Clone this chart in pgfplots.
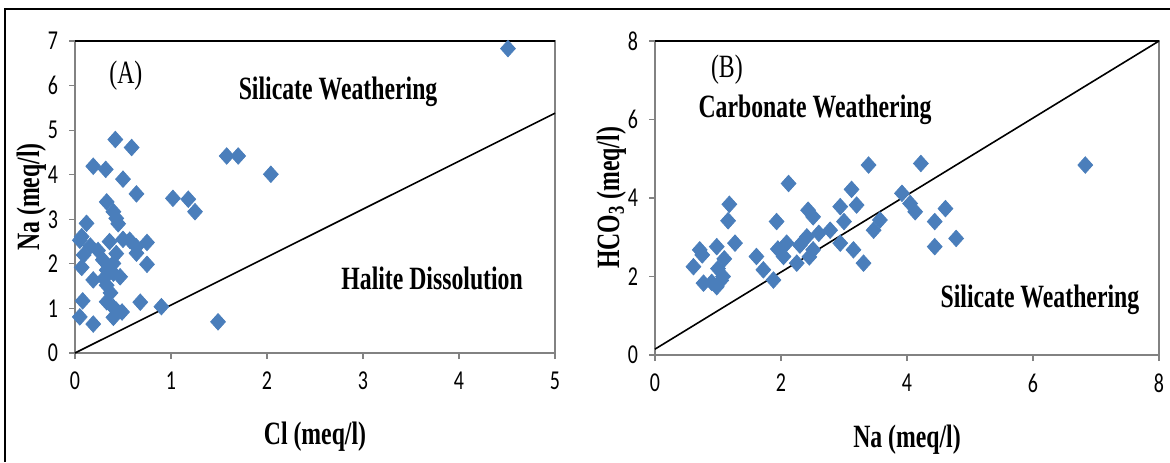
\documentclass[border=0pt]{standalone}
\usepackage{fontspec}
\setmainfont{Liberation Serif}
\newfontfamily\tickfont{Carlito}
\usepackage{graphicx}
\usepackage{pgfplots}
\pgfplotsset{compat=1.18}
\definecolor{ptblue}{RGB}{74,126,187}
\definecolor{axgray}{RGB}{130,130,130}
\newcommand{\tall}[1]{\scalebox{0.95}[1.3]{#1}}

\pgfplotstableread{
x y
0.42 4.79
0.59 4.61
0.19 4.19
0.32 4.12
0.50 3.90
0.64 3.57
1.58 4.42
1.70 4.42
2.04 4.01
1.02 3.47
1.18 3.45
1.25 3.17
0.33 3.39
0.40 3.17
0.43 3.02
0.45 2.90
0.12 2.91
0.05 2.53
0.07 2.61
0.16 2.40
0.57 2.53
0.64 2.38
0.75 2.48
0.64 2.24
0.75 1.99
0.29 2.09
0.40 2.01
0.43 2.23
0.40 1.79
0.33 1.86
0.07 1.92
0.19 1.64
0.30 1.67
0.33 1.52
0.47 1.71
0.08 1.17
0.33 1.15
0.40 1.02
0.43 0.96
0.49 0.92
0.68 1.14
0.90 1.04
0.05 0.81
0.19 0.65
0.40 0.80
1.49 0.70
4.51 6.83
0.24 2.30
0.36 2.50
0.50 2.55
0.09 2.20
0.37 1.35
}\dataA

\pgfplotstableread{
x y
3.39 4.84
2.12 4.37
1.18 3.84
1.16 3.42
3.12 4.22
2.94 3.78
3.20 3.82
2.43 3.69
2.51 3.52
1.93 3.40
0.71 2.68
0.61 2.25
0.98 2.76
1.27 2.85
0.77 1.83
0.98 1.74
1.08 2.00
0.90 1.85
1.05 1.90
1.61 2.51
1.72 2.17
1.88 1.91
2.09 2.85
2.25 2.34
2.41 3.01
2.51 2.68
2.78 3.18
2.94 2.85
3.15 2.68
3.31 2.34
2.04 2.51
1.95 2.70
2.30 2.80
2.45 2.50
3.47 3.18
3.57 3.44
4.22 4.88
6.83 4.84
3.92 4.12
4.05 3.86
4.13 3.65
4.61 3.73
4.44 3.40
4.78 2.97
4.44 2.76
1.10 2.45
0.75 2.55
1.00 2.20
2.60 3.10
3.00 3.40
}\dataB

\pgfplotsset{
  panel/.style={
    scale only axis,
    anchor=south west,
    axis line style={axgray, line width=1.1pt},
    tick align=outside,
    tick style={axgray, line width=0.6pt},
    major tick length=3pt,
    xtick pos=bottom, ytick pos=left,
    tick label style={font=\tickfont\fontsize{10.5}{12}\selectfont},
    xticklabel={\tall{\pgfmathprintnumber{\tick}}},
    yticklabel={\tall{\pgfmathprintnumber{\tick}}},
    xticklabel style={yshift=-3pt},
    yticklabel style={xshift=-2pt},
    label style={font=\bfseries\fontsize{12.5}{14}\selectfont},
    xlabel style={yshift=-9pt},
    ylabel style={yshift=-6pt},
    /pgf/number format/assume math mode=true,
    clip=false,
  },
  pts/.style={only marks, mark=diamond*, mark size=4.1pt,
    mark options={xscale=1.2, fill=ptblue, draw=ptblue}},
}
\tikzset{reg/.style={font=\bfseries\fontsize{12.5}{14}\selectfont}}

\begin{document}
\begin{tikzpicture}
\path[use as bounding box] (0pt,0pt) rectangle (585pt,231pt);
% outer frame (left and top)
\draw[black, line width=1.3pt] (2.5pt,0pt) -- (2.5pt,226.5pt) -- (585pt,226.5pt);

% panel A
\begin{axis}[panel,
  at={(37.5pt,54.5pt)}, width=240pt, height=156pt,
  xmin=0, xmax=5, ymin=0, ymax=7,
  xtick={0,1,2,3,4,5}, ytick={0,1,...,7},
  xlabel={\tall{Cl (meq/l)}}, ylabel={\tall{Na (meq/l)}},
]
\addplot[pts] table[x=x,y=y] {\dataA};
\addplot[black, line width=0.8pt] coordinates {(0,0) (5,5.38)};
\draw[black, line width=1.3pt] (axis cs:0,7) -- (axis cs:5,7);
\node[font=\fontsize{12.5}{14}\selectfont] at (axis cs:0.53,6.23) {\tall{(A)}};
\node[reg] at (axis cs:2.74,5.85) {\tall{Silicate Weathering}};
\node[reg] at (axis cs:3.72,1.68) {\tall{Halite Dissolution}};
\end{axis}

% panel B
\begin{axis}[panel,
  at={(327.5pt,53.5pt)}, width=252pt, height=157pt,
  xmin=0, xmax=8, ymin=0, ymax=8,
  xtick={0,2,4,6,8}, ytick={0,2,4,6,8},
  xlabel={\tall{Na (meq/l)}}, ylabel={\tall{HCO\textsubscript{3} (meq/l)}},
]
\addplot[pts] table[x=x,y=y] {\dataB};
\addplot[black, line width=0.8pt] coordinates {(0,0.15) (8,8)};
\draw[black, line width=1.3pt] (axis cs:0,8) -- (axis cs:8,8);
\node[font=\fontsize{12.5}{14}\selectfont] at (axis cs:1.14,7.26) {\tall{(B)}};
\node[reg] at (axis cs:2.54,6.24) {\tall{Carbonate Weathering}};
\node[reg] at (axis cs:6.11,1.40) {\tall{Silicate Weathering}};
\end{axis}
\end{tikzpicture}
\end{document}
